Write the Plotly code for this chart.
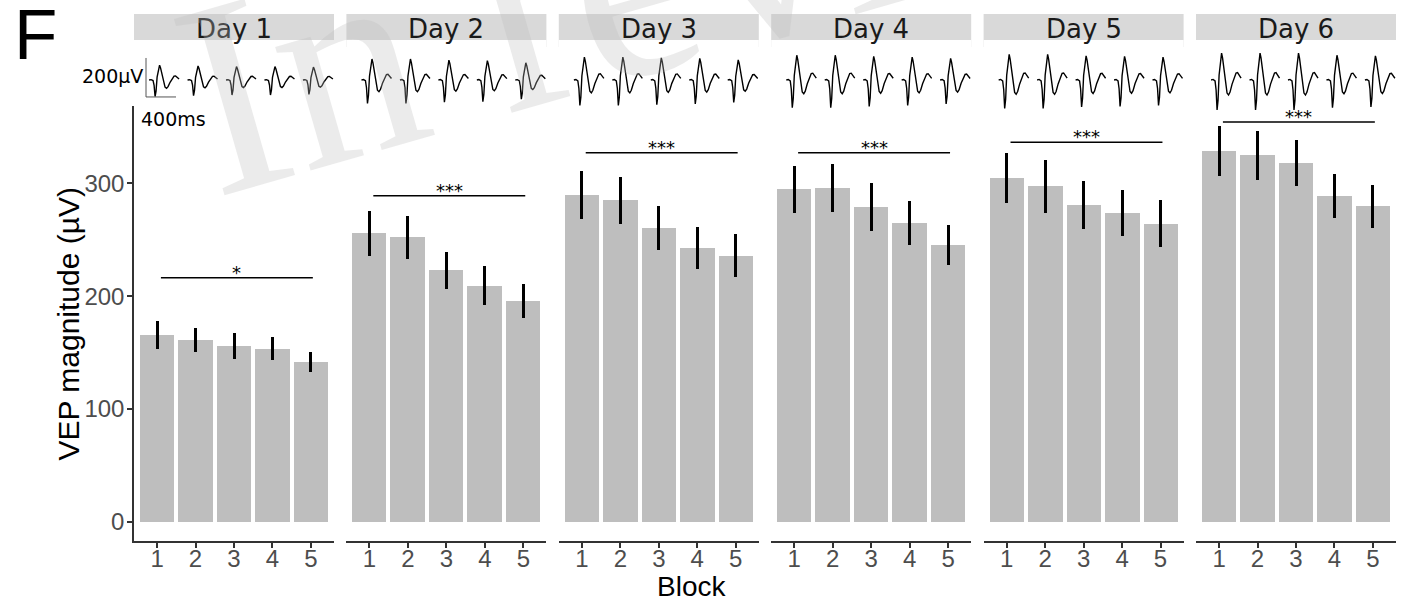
import plotly.graph_objects as go

# ---------------- data ----------------
days = ["Day 1", "Day 2", "Day 3", "Day 4", "Day 5", "Day 6"]
blocks = [1, 2, 3, 4, 5]
block_labels = ["1", "2", "3", "4", "5"]

vep_day1 = [165.7, 161.0, 155.7, 153.3, 141.5]
vep_day2 = [255.7, 252.2, 222.9, 209.2, 195.9]
vep_day3 = [289.7, 285.0, 260.4, 242.7, 235.9]
vep_day4 = [294.8, 296.2, 279.3, 265.1, 245.1]
vep_day5 = [304.5, 297.4, 280.8, 273.7, 264.2]
vep_day6 = [328.7, 324.9, 318.0, 289.0, 279.7]

se_day1 = [12.6, 11.0, 11.5, 10.2, 9.2]
se_day2 = [19.8, 19.0, 16.5, 17.2, 15.1]
se_day3 = [21.7, 21.1, 19.4, 18.2, 19.0]
se_day4 = [20.6, 21.3, 21.1, 19.7, 17.7]
se_day5 = [22.3, 23.2, 21.6, 20.7, 20.8]
se_day6 = [22.0, 21.6, 20.7, 19.7, 19.3]

sig_y = [216.3, 289.1, 327.2, 327.2, 336.5, 354.5]
sig_label = ["*", "***", "***", "***", "***", "***"]
sig_from = 1.1
sig_to = 5.05

y_ticks = [0, 100, 200, 300]

# average VEP waveform template (ms, µV) and per-block gains
wave_t_ms = [0, 27, 53, 67, 80, 93, 107, 127, 140, 153, 173, 193, 213, 233, 253, 280, 307, 333, 353, 373, 400]
wave_uv = [0, 3, -5, -51, -154, -103, 26, 123, 138, 113, 41, -31, -67, -77, -62, -21, 15, 36, 38, 26, 10]
gain_day1 = [0.55, 0.52, 0.50, 0.50, 0.48]
gain_day2 = [0.78, 0.78, 0.74, 0.72, 0.64]
gain_day3 = [0.85, 0.85, 0.82, 0.80, 0.75]
gain_day4 = [0.92, 0.92, 0.88, 0.85, 0.80]
gain_day5 = [0.95, 0.95, 0.90, 0.88, 0.85]
gain_day6 = [1.00, 1.00, 1.00, 0.92, 0.90]

scale_uv = 200
scale_ms = 400

vals = [vep_day1, vep_day2, vep_day3, vep_day4, vep_day5, vep_day6]
ses = [se_day1, se_day2, se_day3, se_day4, se_day5, se_day6]
gains = [gain_day1, gain_day2, gain_day3, gain_day4, gain_day5, gain_day6]

# ---------------- layout geometry (pixels) ----------------
W, H = 1428, 602
panel_left0 = 134
panel_w = 200
pitch = 212.4
panel_top, panel_bot = 106, 541
wave_top, wave_bot = 40, 120
strip_top, strip_bot = 14, 47

def px_x(p):
    return p / W

def px_y(p):
    return 1 - p / H

x_range = [0.4, 5.6]
units_per_px = (x_range[1] - x_range[0]) / panel_w
wave_width_units = 30 * units_per_px   # 400 ms -> 30 px
wave_offset = -8 * units_per_px
uv_per_px = 200 / 39.0
y2_half = (wave_bot - wave_top) / 2 * uv_per_px

fig = go.Figure()
annotations = []
shapes = []

for d in range(6):
    xa = "x" if d == 0 else f"x{d + 1}"
    fig.add_trace(go.Bar(
        x=blocks, y=vals[d], width=0.9,
        marker=dict(color="#bebebe", line=dict(width=0)),
        error_y=dict(type="data", array=ses[d], width=0, thickness=3, color="black"),
        xaxis=xa, yaxis="y", showlegend=False, hoverinfo="skip"))
    fig.add_trace(go.Scatter(
        x=[sig_from, sig_to], y=[sig_y[d], sig_y[d]], mode="lines",
        line=dict(color="black", width=1.6), xaxis=xa, yaxis="y",
        showlegend=False, hoverinfo="skip"))
    annotations.append(dict(
        x=(sig_from + sig_to) / 2, y=sig_y[d], xref=xa, yref="y",
        text=sig_label[d], showarrow=False, yanchor="bottom", yshift=-7,
        font=dict(family="DejaVu Sans", size=18, color="black")))
    for b_i, b in enumerate(blocks):
        xs = [b + wave_offset + t / scale_ms * wave_width_units for t in wave_t_ms]
        ys = [v * gains[d][b_i] for v in wave_uv]
        fig.add_trace(go.Scatter(
            x=xs, y=ys, mode="lines", line=dict(color="black", width=1.4),
            xaxis=xa, yaxis="y2", showlegend=False, hoverinfo="skip"))
    x0p = panel_left0 + pitch * d
    shapes.append(dict(type="rect", xref="paper", yref="paper",
                       x0=px_x(x0p), x1=px_x(x0p + panel_w),
                       y0=px_y(strip_bot), y1=px_y(strip_top),
                       fillcolor="#d9d9d9", line=dict(width=0), layer="below"))
    annotations.append(dict(
        x=px_x(x0p + panel_w / 2), y=px_y(29.3), xref="paper", yref="paper",
        text=days[d], showarrow=False, xanchor="center", yanchor="middle",
        font=dict(family="DejaVu Sans", size=26, color="#1a1a1a")))

# scale bar in Day 1 waveform area
sb_x = 0.4 + 12 * units_per_px
sb_y0 = -87
fig.add_trace(go.Scatter(
    x=[sb_x, sb_x, sb_x + scale_ms / scale_ms * wave_width_units],
    y=[sb_y0 + scale_uv, sb_y0, sb_y0], mode="lines",
    line=dict(color="#555555", width=1), xaxis="x", yaxis="y2",
    showlegend=False, hoverinfo="skip"))
annotations.append(dict(x=px_x(145), y=px_y(75.5), xref="paper", yref="paper",
                        text=f"{scale_uv}µV", showarrow=False, xanchor="right", yanchor="middle",
                        font=dict(family="DejaVu Sans", size=19, color="black")))
annotations.append(dict(x=px_x(139), y=px_y(119), xref="paper", yref="paper",
                        text=f"{scale_ms}ms", showarrow=False, xanchor="left", yanchor="middle",
                        font=dict(family="DejaVu Sans", size=19, color="black")))

# axis titles
annotations.append(dict(x=px_x(68), y=px_y((panel_top + panel_bot) / 2), xref="paper", yref="paper",
                        text="VEP magnitude (µV)", showarrow=False, textangle=-90,
                        xanchor="center", yanchor="middle",
                        font=dict(family="Liberation Sans", size=30, color="black")))
annotations.append(dict(x=px_x(691), y=px_y(586), xref="paper", yref="paper",
                        text="Block", showarrow=False, xanchor="center", yanchor="middle",
                        font=dict(family="Liberation Sans", size=28, color="black")))
# panel letter
annotations.append(dict(x=px_x(12), y=1, xref="paper", yref="paper", yshift=7,
                        text="F", showarrow=False, xanchor="left", yanchor="top",
                        font=dict(family="Liberation Sans", size=71, color="black")))
# watermark
annotations.append(dict(x=px_x(700), y=px_y(-40), xref="paper", yref="paper",
                        text="In review", showarrow=False, textangle=-16,
                        xanchor="center", yanchor="middle",
                        font=dict(family="Liberation Serif", size=280, color="rgba(190,190,190,0.3)")))

layout = dict(
    width=W, height=H, autosize=False,
    margin=dict(l=0, r=0, t=0, b=0),
    paper_bgcolor="white", plot_bgcolor="white",
    showlegend=False, bargap=0,
    annotations=annotations, shapes=shapes,
)
axis_common = dict(showline=True, linecolor="#333333", linewidth=1.5,
                   ticks="outside", ticklen=5, tickwidth=1.5, tickcolor="#333333",
                   showgrid=False, zeroline=False, fixedrange=True)
for d in range(6):
    key = "xaxis" if d == 0 else f"xaxis{d + 1}"
    x0p = panel_left0 + pitch * d
    layout[key] = dict(domain=[px_x(x0p), px_x(x0p + panel_w)], range=x_range,
                       anchor="y", tickvals=blocks, ticktext=block_labels,
                       ticklabelstandoff=-10,
                       tickfont=dict(family="Liberation Sans", size=24, color="#4d4d4d"),
                       **axis_common)
layout["yaxis"] = dict(domain=[px_y(panel_bot), px_y(panel_top)], range=[-17.3, 368.7],
                       anchor="x", tickvals=y_ticks, ticktext=[str(t) for t in y_ticks],
                       ticklabelstandoff=-2,
                       tickfont=dict(family="Liberation Sans", size=24, color="#4d4d4d"),
                       **axis_common)
layout["yaxis2"] = dict(domain=[px_y(wave_bot), px_y(wave_top)], range=[-y2_half, y2_half],
                        anchor="x", visible=False, fixedrange=True)
fig.update_layout(**layout)

fig.write_html("out.html")
